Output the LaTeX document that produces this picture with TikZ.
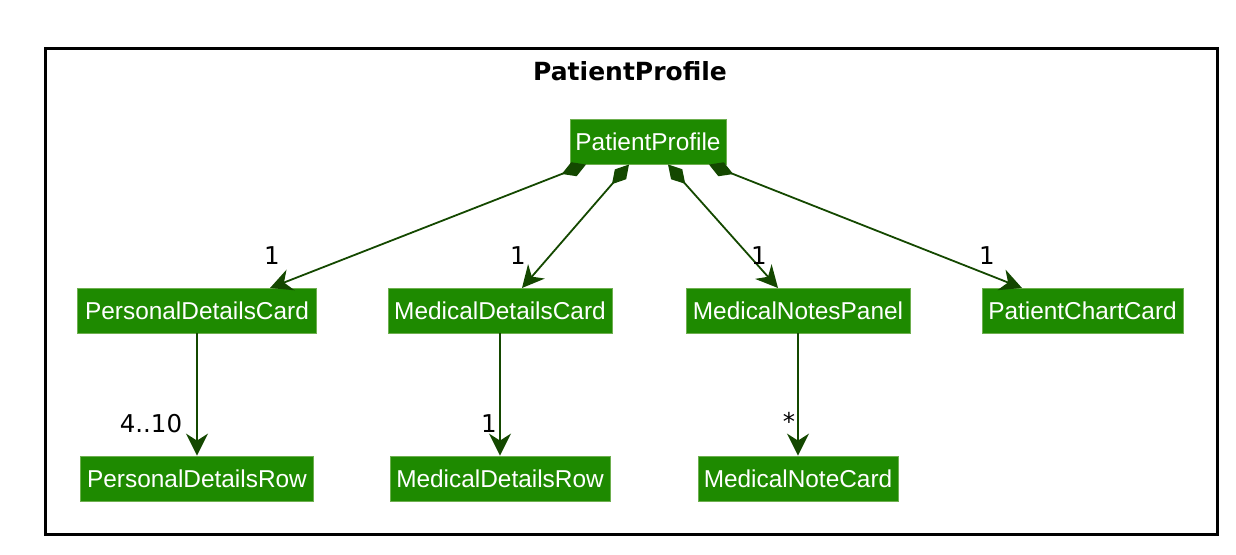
\documentclass[tikz,border=0pt]{standalone}
\usepackage{fontspec}
\setmainfont{Liberation Sans}
\newfontfamily\boxfont{Liberation Sans}
\newfontfamily\labfont{DejaVu Sans}
\usetikzlibrary{arrows.meta}
\definecolor{boxfill}{RGB}{30,138,0}
\definecolor{boxline}{RGB}{110,175,80}
\definecolor{arrowcol}{RGB}{20,72,0}
\begin{document}
\begin{tikzpicture}[x=1pt,y=-1pt,
  cls/.style={draw=boxline,line width=0.8pt,fill=boxfill,text=white,
    font=\boxfont\fontsize{24.4}{28}\selectfont,minimum height=45pt,inner sep=2pt,anchor=center},
  mult/.style={font=\labfont\fontsize{24.5}{28}\selectfont,text=black,inner sep=0pt},
  comp/.style={draw=arrowcol,line width=1.8pt,
    {Diamond[length=26pt,width=15pt,fill=arrowcol]}-{Stealth[length=22pt,width=22pt,inset=7pt,fill=arrowcol]}},
  dep/.style={draw=arrowcol,line width=1.8pt,-{Stealth[length=22pt,width=22pt,inset=7pt,fill=arrowcol]}}
]
\useasboundingbox (0,0) rectangle (1236,554);
\node[draw=black,line width=2.6pt,minimum width=1172pt,minimum height=486pt,anchor=north west,inner sep=0pt] (frame) at (44,47) {};
\node[font=\labfont\bfseries\fontsize{25}{28}\selectfont] (title) at (630,71) {PatientProfile};

\node[cls,minimum width=156pt] (pp) at (648,142) {PatientProfile};
\node[cls,minimum width=239pt] (pdc) at (197,310.5) {PersonalDetailsCard};
\node[cls,minimum width=224pt] (mdc) at (500,310.5) {MedicalDetailsCard};
\node[cls,minimum width=224pt] (mnp) at (798,310.5) {MedicalNotesPanel};
\node[cls,minimum width=201pt] (pcc) at (1082.5,310.5) {PatientChartCard};
\node[cls,minimum width=233pt] (pdr) at (197,478.5) {PersonalDetailsRow};
\node[cls,minimum width=220pt] (mdr) at (500,478.5) {MedicalDetailsRow};
\node[cls,minimum width=200pt] (mnc) at (798,478.5) {MedicalNoteCard};

\coordinate (s1) at (586,164.5);
\coordinate (s2) at (629,164.5);
\coordinate (s3) at (668,164.5);
\coordinate (s4) at (709,164.5);
\coordinate (t1) at (270,288);
\coordinate (t2) at (522,288);
\coordinate (t3) at (778,288);
\coordinate (t4) at (1022,288);

\draw[comp] (s1) -- (t1);
\draw[comp] (s2) -- (t2);
\draw[comp] (s3) -- (t3);
\draw[comp] (s4) -- (t4);

\draw[dep] (pdc.south) -- (pdr.north);
\draw[dep] (mdc.south) -- (mdr.north);
\draw[dep] (mnp.south) -- (mnc.north);

\node[mult] (m1) at (272,256) {1};
\node[mult] (m2) at (518,256) {1};
\node[mult] (m3) at (759,256) {1};
\node[mult] (m4) at (987,256) {1};
\node[mult] (m5) at (151,424) {4..10};
\node[mult] (m6) at (489,424) {1};
\node[mult] (m7) at (789,421) {*};
\end{tikzpicture}
\end{document}
